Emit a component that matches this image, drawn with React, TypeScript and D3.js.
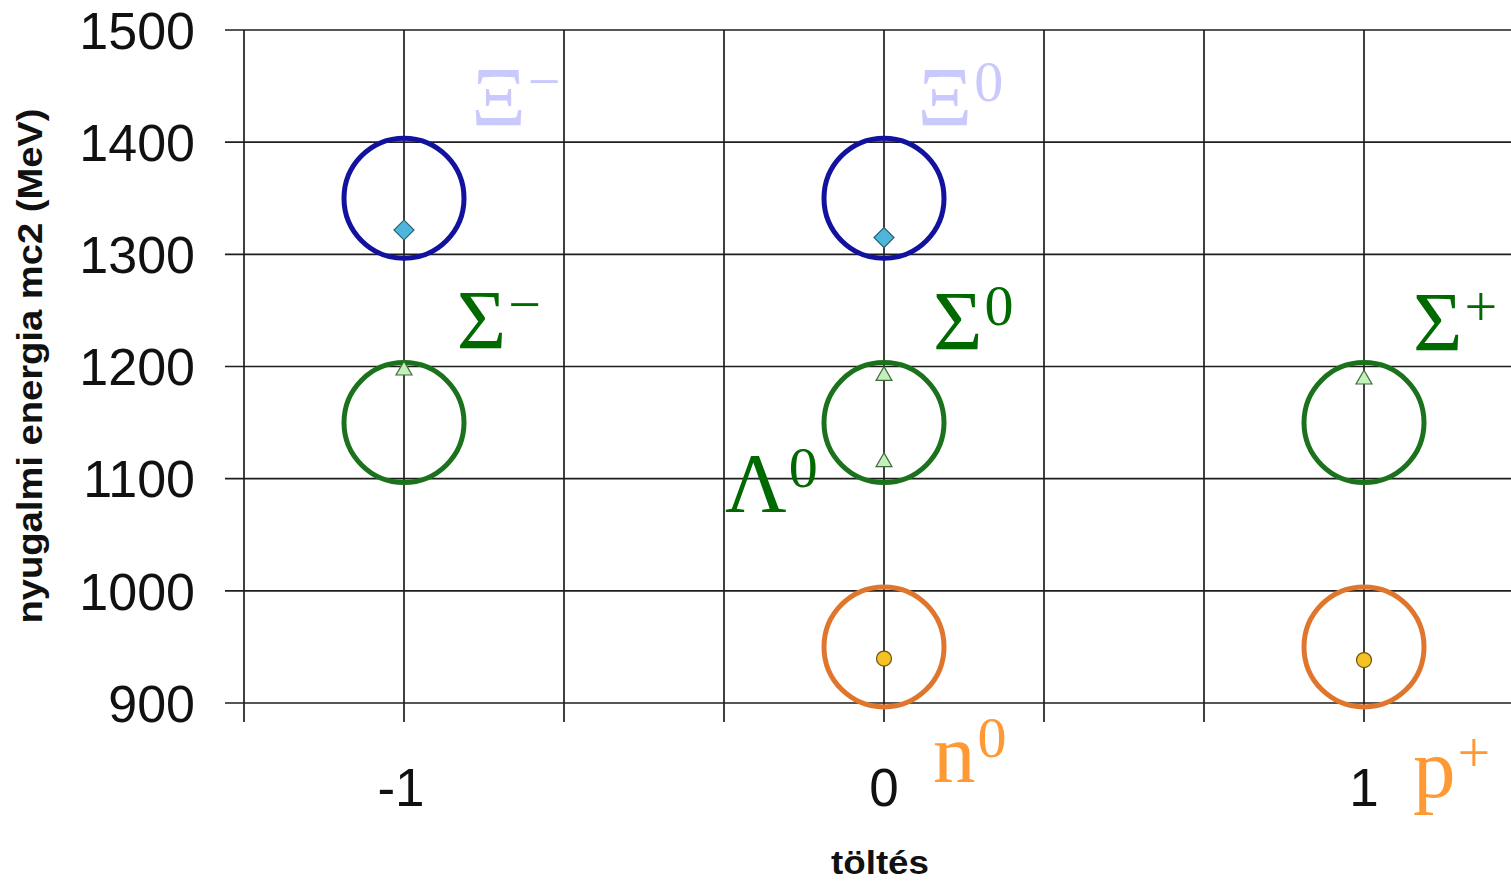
import React from "react";
import * as d3 from "d3";

// ---- data ----
const particleNames = ["Ξ−", "Ξ0", "Σ−", "Σ0", "Σ+", "Λ0", "n0", "p+"];
const particleCharges = [-1, 0, -1, 0, 1, 0, 0, 1];
const particleMasses = [1321.7, 1314.9, 1197.4, 1192.6, 1189.4, 1115.7, 939.6, 938.3];
const particleKinds = ["xi", "xi", "sigma", "sigma", "sigma", "sigma", "nucleon", "nucleon"];

// grouping circles (centre charge, centre energy, family)
const groupCharges = [-1, 0, -1, 0, 1, 0, 1];
const groupEnergies = [1350, 1350, 1150, 1150, 1150, 950, 950];
const groupKinds = ["xi", "xi", "sigma", "sigma", "sigma", "nucleon", "nucleon"];

// labels: base symbol, superscript, anchor (charge, energy)
const labelBase = ["Ξ", "Ξ", "Σ", "Σ", "Σ", "Λ", "n", "p"];
const labelSup = ["−", "0", "−", "0", "+", "0", "0", "+"];
const labelCharge = [-0.86, 0.07, -0.89, 0.102, 1.102, -0.331, 0.102, 1.102];
const labelEnergy = [1414.4, 1414.4, 1215.6, 1214.7, 1213.8, 1070.3, 829.6, 816.2];
const labelKinds = ["xiLabel", "xiLabel", "sigma", "sigma", "sigma", "sigma", "nucleon", "nucleon"];

const yTicks = [900, 1000, 1100, 1200, 1300, 1400, 1500];
const xGridTicks = [-4 / 3, -1, -2 / 3, -1 / 3, 0, 1 / 3, 2 / 3, 1, 4 / 3];
const xLabelTicks = [-1, 0, 1];

const xTitle = "töltés";
const yTitle = "nyugalmi energia mc2 (MeV)";

// ---- styles ----
const W = 1511;
const H = 881;
const ringColor: Record<string, string> = {
  xi: "#12129e",
  sigma: "#1c721c",
  nucleon: "#e0762e",
};
const labelColor: Record<string, string> = {
  xiLabel: "#c9c9fb",
  sigma: "#006a00",
  nucleon: "#ff9933",
};

export default function App() {
  const x = d3.scaleLinear().domain([-4 / 3, 5 / 3]).range([244, 1684]);
  const y = d3.scaleLinear().domain([900, 1500]).range([703, 30]);
  const x0 = x(-4 / 3);
  const yBottom = y(900);
  const tickLen = 19;
  const gridColor = "#1e1e1e";
  const ringR = 60;

  const diamond = d3.symbol().type(d3.symbolSquare).size(200)();
  const triangle = d3.symbol().type(d3.symbolTriangle).size(110)();

  return (
    <svg
      width={W}
      height={H}
      style={{ position: "absolute", left: 0, top: 0, background: "#fff" }}
      fontFamily="'Liberation Sans', Arial, sans-serif"
    >
      <rect x={0} y={0} width={W} height={H} fill="#fff" />
      {/* horizontal grid + y ticks */}
      {yTicks.map((t) => (
        <line key={"h" + t} x1={x0 - tickLen} x2={W} y1={y(t)} y2={y(t)} stroke={gridColor} strokeWidth={1.7} />
      ))}
      {/* vertical grid + x ticks */}
      {xGridTicks.map((t, i) => (
        <line key={"v" + i} x1={x(t)} x2={x(t)} y1={y(1500)} y2={yBottom + tickLen} stroke={gridColor} strokeWidth={1.7} />
      ))}
      {/* y tick labels */}
      {yTicks.map((t) => (
        <text key={"yl" + t} x={195} y={y(t)} dy="0.36em" textAnchor="end" fontSize={52} fill="#111">
          {t}
        </text>
      ))}
      {/* x tick labels */}
      {xLabelTicks.map((t) => (
        <text key={"xl" + t} x={x(t) - (t < 0 ? 3 : 0)} y={806} textAnchor="middle" fontSize={53} fill="#111">
          {t}
        </text>
      ))}
      {/* axis titles */}
      <text x={880} y={874} textAnchor="middle" fontSize={34} fontWeight="bold" fill="#111" textLength={98} lengthAdjust="spacingAndGlyphs">
        {xTitle}
      </text>
      <text
        transform={`translate(42, 366) rotate(-90)`}
        textAnchor="middle"
        fontSize={35}
        fontWeight="bold"
        fill="#111"
        textLength={515}
        lengthAdjust="spacingAndGlyphs"
      >
        {yTitle}
      </text>

      {/* grouping rings */}
      {groupCharges.map((c, i) => (
        <circle
          key={"g" + i}
          cx={x(c)}
          cy={y(groupEnergies[i])}
          r={ringR}
          fill="none"
          stroke={ringColor[groupKinds[i]]}
          strokeWidth={5}
        />
      ))}

      {/* particle markers */}
      {particleNames.map((name, i) => {
        const cx = x(particleCharges[i]);
        const cy = y(particleMasses[i]);
        const kind = particleKinds[i];
        if (kind === "xi")
          return (
            <path
              key={name}
              d={diamond!}
              transform={`translate(${cx},${cy}) rotate(45)`}
              fill="#4db6da"
              stroke="#2d5f72"
              strokeWidth={1.2}
            />
          );
        if (kind === "sigma")
          return <path key={name} d={triangle!} transform={`translate(${cx},${cy + 1})`} fill="#c4f0bc" stroke="#3f6a3f" strokeWidth={1.2} />;
        return <circle key={name} cx={cx} cy={cy} r={7.5} fill="#f6c223" stroke="#6b5512" strokeWidth={1.2} />;
      })}

      {/* particle labels */}
      {labelBase.map((b, i) => (
        <text
          key={"lab" + i}
          x={x(labelCharge[i])}
          y={y(labelEnergy[i])}
          fontFamily="'Liberation Serif', 'Times New Roman', serif"
          fontSize={85}
          fill={labelColor[labelKinds[i]]}
        >
          {b}
          <tspan fontSize={58} dy={-25} dx={2}>
            {labelSup[i]}
          </tspan>
        </text>
      ))}
    </svg>
  );
}
